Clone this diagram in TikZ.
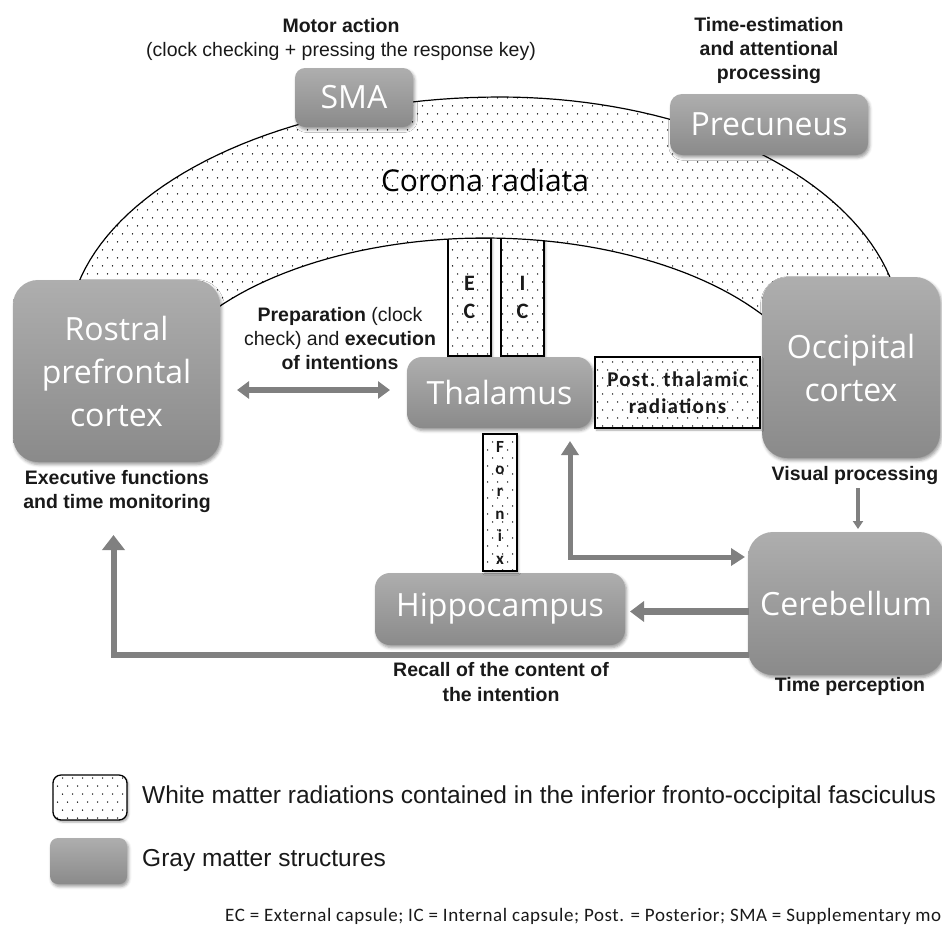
\documentclass[tikz,border=0pt]{standalone}
\usepackage{fontspec}
\setmainfont{Liberation Sans}
\newfontfamily\boxfont{Open Sans}
\newfontfamily\calfont{Carlito}
\newfontfamily\calfontsp[LetterSpace=6]{Carlito}
\newfontfamily\footfont[LetterSpace=3]{Carlito}
\usetikzlibrary{patterns,arrows.meta,shadows.blur}

\pgfdeclarepatternformonly{mydots}{\pgfqpoint{-1pt}{-1pt}}{\pgfqpoint{11pt}{17pt}}{\pgfqpoint{10pt}{16pt}}{%
  \pgfpathcircle{\pgfqpoint{2.5pt}{2pt}}{0.75pt}%
  \pgfpathcircle{\pgfqpoint{7.5pt}{10pt}}{0.75pt}%
  \pgfusepath{fill}%
}

\definecolor{gtop}{RGB}{174,174,174}
\definecolor{gbot}{RGB}{138,138,138}
\definecolor{arrg}{RGB}{128,128,128}
\definecolor{txt}{RGB}{25,25,25}

\tikzset{
  gbox/.style={rounded corners=#1, top color=gtop, bottom color=gbot, draw=none,
    text=white, font={\boxfont\fontsize{32}{43}\selectfont}, align=center, inner sep=0pt,
    blur shadow={shadow xshift=1.5pt, shadow yshift=-2.5pt, shadow blur radius=3pt, shadow opacity=40}},
  gbox/.default=15pt,
  wbox/.style={blur shadow={shadow xshift=1.5pt, shadow yshift=-2pt, shadow blur radius=2pt, shadow opacity=35},
    preaction={fill=white}, pattern=mydots, draw=black, line width=1.3pt,
    inner sep=0pt, align=center, text=txt, font={\calfont\bfseries\fontsize{22}{28}\selectfont}},
  lbl/.style={font={\fontsize{19.5}{24}\selectfont}, text=txt, align=center, inner sep=0pt},
  legtxt/.style={font={\fontsize{24.5}{29}\selectfont}, text=txt, inner sep=0pt, anchor=west},
  garr/.style={draw=arrg, line width=#1},
  garr/.default=5pt
}

\begin{document}
\begin{tikzpicture}[x=1pt,y=-1pt]
\useasboundingbox (0,0) rectangle (942,924);
\clip (0,0) rectangle (942,924);

% capsule boxes (under the arch)
\node[wbox, minimum width=43, minimum height=118] (ec) at (469.5,297) {E\\C};
\node[wbox, minimum width=43, minimum height=118] (ic) at (522.5,297) {I\\C};

% corona radiata arch
\path[draw=black, line width=1.2pt, preaction={fill=white}, pattern=mydots]
  plot[variable=\t, domain=180:90, samples=45] ({500+432*cos(\t)}, {335-238*sin(\t)})
  -- plot[variable=\t, domain=90:0, samples=45] ({500+402*cos(\t)}, {335-238*sin(\t)})
  -- plot[variable=\t, domain=29.6:150.4, samples=60] ({485+340*cos(\t)}, {420-182*sin(\t)})
  -- cycle;
\node[inner sep=0pt, font={\boxfont\fontsize{30}{36}\selectfont}, text=black] (cr) at (485,180) {Corona radiata};

% gray matter structures
\node[gbox=10pt, minimum width=118, minimum height=59] (sma) at (354,97.5) {SMA};
\node[gbox=12pt, minimum width=198, minimum height=61] (prec) at (769,124.5) {Precuneus};
\node[gbox=25pt, minimum width=207, minimum height=182] (rpc) at (116.5,371) {Rostral\\prefrontal\\cortex};
\node[gbox=15pt, minimum width=185, minimum height=71] (thal) at (499.5,392.5) {Thalamus};
\node[gbox=25pt, minimum width=178, minimum height=181] (occ) at (851,367.5) {Occipital\\cortex};
\node[gbox=25pt, minimum width=196, minimum height=143] (cer) at (846,603.5) {Cerebellum};
\node[gbox=15pt, minimum width=250, minimum height=72] (hip) at (500,609) {Hippocampus};

% white matter boxes
\node[wbox, minimum width=165, minimum height=71, font={\calfontsp\bfseries\fontsize{21}{27}\selectfont}] (post) at (677.5,392.5) {Post. thalamic\\radiations};
\node[wbox, minimum width=34, minimum height=137, font={\calfont\bfseries\fontsize{17}{22.4}\selectfont}] (fx) at (500,502.5) {F\\o\\r\\n\\i\\x};

% labels
\node[lbl] (lmotor) at (341,39) {\textbf{Motor action}\\(clock checking + pressing the response key)};
\node[lbl, font={\bfseries\fontsize{19.5}{24}\selectfont}] (ltime) at (769,50.5) {Time-estimation\\and attentional\\processing};
\node[lbl] (lprep) at (340,338.5) {\textbf{Preparation} (clock\\check) and \textbf{execution}\\\textbf{of intentions}};
\node[lbl, font={\bfseries\fontsize{19.5}{24}\selectfont}] (lexec) at (117,491) {Executive functions\\and time monitoring};
\node[lbl, font={\bfseries\fontsize{19.5}{24}\selectfont}] (lvis) at (855,475) {Visual processing};
\node[lbl, font={\bfseries\fontsize{19.5}{24}\selectfont}] (ltp) at (850,686) {Time perception};
\node[lbl, font={\bfseries\fontsize{19.5}{25}\selectfont}] (lrec) at (501,682.5) {Recall of the content of\\the intention};

% arrows
\coordinate (pa) at (237,390);
\coordinate (pb) at (390,390);
\draw[garr=6pt, {Triangle[length=12pt,width=17pt]}-{Triangle[length=12pt,width=17pt]}] (pa) -- (pb);

\coordinate (ta) at (570,441);
\coordinate (tb) at (745,557);
\draw[garr=5pt, {Triangle[length=14pt,width=17pt]}-{Triangle[length=14pt,width=17pt]}] (ta) |- (tb);

\coordinate (oa) at (858,488);
\coordinate (ob) at (858,529);
\draw[garr=3.5pt, -{Triangle[length=8pt,width=10pt]}] (oa) -- (ob);

\coordinate (ha) at (749,611.5);
\coordinate (hb) at (630,611.5);
\draw[garr=7pt, -{Triangle[length=14pt,width=20pt]}] (ha) -- (hb);

\coordinate (ra) at (749,655);
\coordinate (rb) at (113.5,535);
\draw[garr=6pt, -{Triangle[length=15pt,width=22pt]}] (ra) -| (rb);

% legend
\node[wbox, rounded corners=8pt, minimum width=74, minimum height=45] (lg1) at (90,797.5) {};
\node[legtxt] (lg1t) at (142,797) {White matter radiations contained in the inferior fronto-occipital fasciculus};
\node[gbox=8pt, minimum width=77, minimum height=46] (lg2) at (88.5,861) {};
\node[legtxt] (lg2t) at (142,860) {Gray matter structures};

\node[inner sep=0pt, anchor=base west, text=txt, font={\footfont\fontsize{19}{22}\selectfont}] (foot) at (225,921)
  {EC = External capsule; IC = Internal capsule; Post. = Posterior; SMA = Supplementary mo};
\end{tikzpicture}
\end{document}
